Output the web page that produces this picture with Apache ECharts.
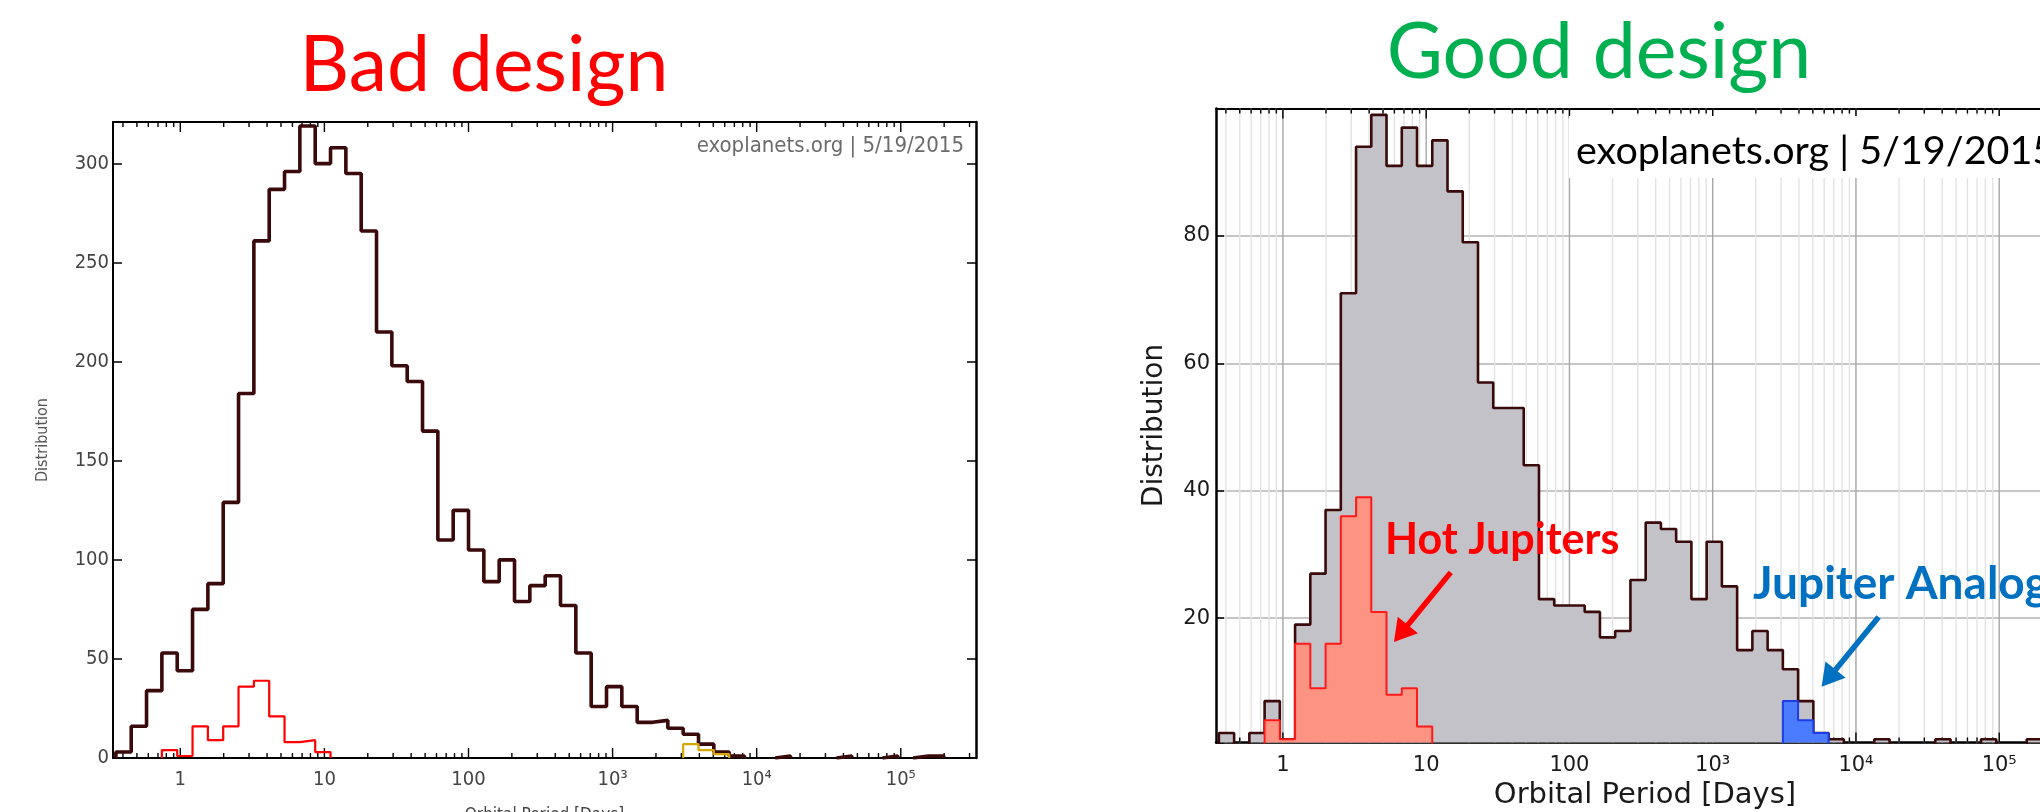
<!DOCTYPE html>
<html>
<head>
<meta charset="utf-8">
<script src="https://cdn.jsdelivr.net/npm/echarts@6/dist/echarts.min.js"></script>
<style>
  html, body { margin: 0; padding: 0; background: #ffffff; }
  #chart { width: 2040px; height: 812px; }
</style>
</head>
<body>
<div id="chart"></div>
<script>
// ---------------- DATA ----------------
// Histogram bins are equal-width in log10(orbital period in days).
const binLogWidth = 0.1064;      // width of one bin in log10(days)
const firstBinEdgeLog = -0.447;  // log10 of the left edge of bin 0

// "Bad design" panel – all planets, counts per bin (bin 0 .. 53)
const badAllCounts = [3,16,34,53,44,75,88,129,184,261, 287,296,319,300,308,295,266,215,198,190,
                      165,110,125,105,89,100,79,87,92,77, 53,26,36,26,18,19,15,12,7,3,
                      1,0,0,1,0,0,0,1,0,0, 1,0,1,1];
// "Good design" panel – all planets, counts per bin (bin 0 .. 53)
const goodAllCounts = [2,0,2,7,1,19,27,37,71,94, 99,91,97,91,95,87,79,57,53,53,
                       44,23,22,22,21,17,18,26,35,34, 32,23,32,25,15,18,15,12,7,2,
                       1,0,0,1,0,0,0,1,0,0, 1,0,0,1];
// Hot Jupiters (same in both panels), first bin index 3
const hotJupiterFirstBin = 3;
const hotJupiterCounts = [4,1,16,9,16,36,39,21,8,9,3];
// Jupiter analogs (same in both panels), first bin index 37
const jupiterAnalogFirstBin = 37;
const jupiterAnalogCounts = [7,4,2];

// Axis tick labels (decades of orbital period, log10 value -> label)
const periodTickValues = [0, 1, 2, 3, 4, 5];
const periodTickLabels = ['1', '10', '100', '10³', '10⁴', '10⁵'];

// ---------------- HELPERS ----------------
const binEdge = k => firstBinEdgeLog + k * binLogWidth;

// Stepped outline of a histogram, broken where counts are zero
function stepData(counts, startBin) {
  const pts = [];
  let open = false;
  for (let i = 0; i < counts.length; i++) {
    const c = counts[i];
    if (!(c > 0)) continue;
    const k = startBin + i;
    if (!open) { pts.push([binEdge(k), 0]); open = true; }
    pts.push([binEdge(k), c]);
    if (!(counts[i + 1] > 0)) {
      pts.push([binEdge(k + 1), c]);
      pts.push([binEdge(k + 1), 0]);
      pts.push([binEdge(k + 1), null]);
      open = false;
    }
  }
  return pts;
}

const xMin = -0.467, xMax = 5.522;

// positions of log-scale ticks (1..9 x 10^d) within the axis range
function logTicks(minLog, maxLog) {
  const out = [];
  for (let d = Math.floor(minLog); d <= Math.ceil(maxLog); d++) {
    for (let m = 1; m <= 9; m++) {
      const v = d + Math.log10(m);
      if (v > minLog && v < maxLog) out.push([v, m === 1 ? 1 : 0]);
    }
  }
  return out;
}

function decadeLabel(v) {
  const r = Math.round(v);
  if (Math.abs(v - r) > 1e-6) return '';
  const i = periodTickValues.indexOf(r);
  return i >= 0 ? periodTickLabels[i] : '';
}

function tickRenderer(o) {
  return function (params, api) {
    const cs = params.coordSys;
    const x = api.coord([api.value(0), 50])[0];
    const major = api.value(1) === 1;
    const children = [];
    if (o.grid) {
      children.push({
        type: 'line',
        shape: { x1: x, y1: cs.y, x2: x, y2: cs.y + cs.height },
        style: { stroke: major ? o.majorGrid : o.minorGrid, lineWidth: 1.4 }
      });
    }
    const L = major ? o.majorLen : o.minorLen;
    const bottom = cs.y + cs.height;
    children.push({ type: 'line', shape: { x1: x, y1: bottom, x2: x, y2: bottom - L },
      style: { stroke: o.tickColor, lineWidth: o.tickWidth } });
    children.push({ type: 'line', shape: { x1: x, y1: cs.y, x2: x, y2: cs.y + L },
      style: { stroke: o.tickColor, lineWidth: o.tickWidth } });
    return { type: 'group', children: children };
  };
}

// ---------------- STYLE ----------------
const LEFT_FONT = '"DejaVu Sans Condensed", "DejaVu Sans", sans-serif';
const RIGHT_FONT = '"DejaVu Sans", sans-serif';
const TITLE_FONT = 'Lato, "Open Sans", sans-serif';
const DARK = '#3a0909';

const chart = echarts.init(document.getElementById('chart'), null, { renderer: 'canvas', width: 2040, height: 812 });

const frameLine = w => ({ show: true, onZero: false, lineStyle: { color: '#000', width: w } });

const option = {
  animation: false,
  backgroundColor: '#ffffff',
  grid: [
    { left: 113, top: 122, width: 863, height: 636, containLabel: false, outerBoundsMode: 'none' },
    { left: 1216, top: 108.5, width: 858, height: 634, containLabel: false, outerBoundsMode: 'none' }
  ],
  xAxis: [
    { gridIndex: 0, type: 'value', min: xMin, max: xMax, position: 'bottom',
      axisLine: frameLine(2), axisTick: { show: false }, splitLine: { show: false },
      axisLabel: { formatter: decadeLabel, margin: 12, fontFamily: LEFT_FONT, fontSize: 20, color: '#444',
        showMinLabel: false, showMaxLabel: false },
      name: 'Orbital Period [Days]', nameLocation: 'middle', nameGap: 49, nameMoveOverlap: false,
      nameTextStyle: { fontFamily: LEFT_FONT, fontSize: 17, color: '#444' } },
    { gridIndex: 0, type: 'value', min: xMin, max: xMax, position: 'top',
      axisLine: frameLine(2), axisTick: { show: false }, splitLine: { show: false }, axisLabel: { show: false } },
    { gridIndex: 1, type: 'value', min: xMin, max: xMax, position: 'bottom',
      axisLine: frameLine(2.5), axisTick: { show: false }, splitLine: { show: false },
      axisLabel: { formatter: decadeLabel, margin: 13, fontFamily: RIGHT_FONT, fontSize: 21, color: '#1a1a1a',
        showMinLabel: false, showMaxLabel: false },
      name: 'Orbital Period [Days]', nameLocation: 'middle', nameGap: 37,
      nameTextStyle: { fontFamily: RIGHT_FONT, fontSize: 29, color: '#1a1a1a' } },
    { gridIndex: 1, type: 'value', min: xMin, max: xMax, position: 'top',
      axisLine: frameLine(2), axisTick: { show: false }, splitLine: { show: false }, axisLabel: { show: false } }
  ],
  yAxis: [
    { gridIndex: 0, type: 'value', min: 0, max: 321, position: 'left',
      axisLine: frameLine(2),
      axisTick: { show: true, inside: true, length: 9, lineStyle: { color: '#000', width: 1.5 } },
      splitLine: { show: false },
      axisLabel: { formatter: v => (v % 50 === 0 ? String(v) : ''), margin: 4,
        fontFamily: LEFT_FONT, fontSize: 20, color: '#444' },
      name: 'Distribution', nameLocation: 'middle', nameGap: 62,
      nameTextStyle: { fontFamily: LEFT_FONT, fontSize: 16, color: '#555' } },
    { gridIndex: 0, type: 'value', min: 0, max: 321, position: 'right',
      axisLine: frameLine(2.5),
      axisTick: { show: true, inside: true, length: 9, lineStyle: { color: '#000', width: 1.5 } },
      splitLine: { show: false }, axisLabel: { show: false } },
    { gridIndex: 1, type: 'value', min: 0.5, max: 100, position: 'left',
      axisLine: frameLine(2.5),
      axisTick: { show: true, inside: true, length: 8, lineStyle: { color: '#000', width: 1.5 } },
      splitLine: { show: true, lineStyle: { color: '#b3b3b3', width: 1.5 } },
      axisLabel: { formatter: v => (v >= 20 && v <= 80 && v % 20 === 0 ? String(v) : ''), margin: 6,
        fontFamily: RIGHT_FONT, fontSize: 21, color: '#1a1a1a' },
      name: 'Distribution', nameLocation: 'middle', nameGap: 47,
      nameTextStyle: { fontFamily: RIGHT_FONT, fontSize: 28, color: '#1a1a1a' } },
    { gridIndex: 1, type: 'value', min: 0.5, max: 100, position: 'right',
      axisLine: frameLine(2.5),
      axisTick: { show: true, inside: true, length: 8, lineStyle: { color: '#000', width: 1.5 } },
      splitLine: { show: false }, axisLabel: { show: false } }
  ],
  series: [
    // ---- left panel ----
    { type: 'custom', xAxisIndex: 0, yAxisIndex: 0, z: 1, silent: true,
      renderItem: tickRenderer({ grid: false, majorLen: 10, minorLen: 5, tickColor: '#000', tickWidth: 1.4 }),
      data: logTicks(xMin, xMax) },
    { name: 'All planets', type: 'line', xAxisIndex: 0, yAxisIndex: 0, step: 'end', z: 3,
      symbol: 'none', showSymbol: false, connectNulls: false, silent: true,
      lineStyle: { color: DARK, width: 3.6 }, data: stepData(badAllCounts, 0) },
    { name: 'Hot Jupiters', type: 'line', xAxisIndex: 0, yAxisIndex: 0, step: 'end', z: 4,
      symbol: 'none', showSymbol: false, connectNulls: false, silent: true,
      lineStyle: { color: '#ff0000', width: 2.2 }, data: stepData(hotJupiterCounts, hotJupiterFirstBin) },
    { name: 'Jupiter Analogs', type: 'line', xAxisIndex: 0, yAxisIndex: 0, step: 'end', z: 4,
      symbol: 'none', showSymbol: false, connectNulls: false, silent: true,
      lineStyle: { color: '#d8a600', width: 2.2 }, data: stepData(jupiterAnalogCounts, jupiterAnalogFirstBin) },
    // ---- right panel ----
    { type: 'custom', xAxisIndex: 2, yAxisIndex: 2, z: 1, silent: true,
      renderItem: tickRenderer({ grid: true, majorGrid: '#a6a6a6', minorGrid: '#e3e3e3',
        majorLen: 10, minorLen: 5, tickColor: '#000', tickWidth: 1.4 }),
      data: logTicks(xMin, xMax) },
    { name: 'All planets', type: 'line', xAxisIndex: 2, yAxisIndex: 2, step: 'end', z: 3,
      symbol: 'none', showSymbol: false, connectNulls: false, silent: true,
      lineStyle: { color: DARK, width: 2.6 },
      areaStyle: { color: '#c3c2c8', opacity: 1, origin: 'start' },
      data: stepData(goodAllCounts, 0) },
    { name: 'Hot Jupiters', type: 'line', xAxisIndex: 2, yAxisIndex: 2, step: 'end', z: 4,
      symbol: 'none', showSymbol: false, connectNulls: false, silent: true,
      lineStyle: { color: '#ff1a1a', width: 2 },
      areaStyle: { color: '#fc9383', opacity: 1, origin: 'start' },
      data: stepData(hotJupiterCounts, hotJupiterFirstBin),
      markLine: { silent: true, animation: false, symbol: ['none', 'triangle'], symbolSize: [26, 22],
        lineStyle: { color: '#ff0000', width: 5.5, type: 'solid' }, label: { show: false },
        emphasis: { disabled: true },
        data: [[{ coord: [1.1717, 27.2] }, { coord: [0.8235, 17.6] }]] } },
    { name: 'Jupiter Analogs', type: 'line', xAxisIndex: 2, yAxisIndex: 2, step: 'end', z: 4,
      symbol: 'none', showSymbol: false, connectNulls: false, silent: true,
      lineStyle: { color: '#1c3ce8', width: 2 },
      areaStyle: { color: '#4b7cff', opacity: 1, origin: 'start' },
      data: stepData(jupiterAnalogCounts, jupiterAnalogFirstBin),
      markLine: { silent: true, animation: false, symbol: ['none', 'triangle'], symbolSize: [26, 22],
        lineStyle: { color: '#0070c0', width: 5.5, type: 'solid' }, label: { show: false },
        emphasis: { disabled: true },
        data: [[{ coord: [4.1584, 20.2] }, { coord: [3.8088, 10.6] }]] } }
  ],
  graphic: [
    { type: 'text', x: 484, y: 66, z: 20, silent: true,
      style: { text: 'Bad design', fontFamily: TITLE_FONT, fontSize: 77, fill: '#ff0000',
        align: 'center', verticalAlign: 'middle', textAlign: 'center', textVerticalAlign: 'middle' } },
    { type: 'text', x: 1599, y: 53, z: 20, silent: true,
      style: { text: 'Good design', fontFamily: TITLE_FONT, fontSize: 77, fill: '#00b050',
        align: 'center', verticalAlign: 'middle', textAlign: 'center', textVerticalAlign: 'middle' } },
    { type: 'text', x: 964, y: 146, z: 20, silent: true,
      style: { text: 'exoplanets.org | 5/19/2015', fontFamily: LEFT_FONT, fontSize: 22, fill: '#6b6b6b',
        align: 'right', verticalAlign: 'middle', textAlign: 'right', textVerticalAlign: 'middle' } },
    { type: 'rect', z: 15, silent: true, shape: { x: 1569, y: 116, width: 480, height: 62 },
      style: { fill: '#ffffff' } },
    { type: 'text', x: 1576, y: 151.5, z: 20, silent: true,
      style: { text: 'exoplanets.org | 5/19/2015', fontFamily: TITLE_FONT, fontSize: 39.5, fill: '#000000',
        align: 'left', verticalAlign: 'middle', textAlign: 'left', textVerticalAlign: 'middle' } },
    { type: 'text', x: 1385, y: 540, z: 20, silent: true,
      style: { text: 'Hot Jupiters', fontFamily: TITLE_FONT, fontWeight: 'bold', fontSize: 43, fill: '#ff0000',
        align: 'left', verticalAlign: 'middle', textAlign: 'left', textVerticalAlign: 'middle' } },
    { type: 'text', x: 1753, y: 584, z: 20, silent: true,
      style: { text: 'Jupiter Analogs', fontFamily: TITLE_FONT, fontWeight: 'bold', fontSize: 46, fill: '#0070c0',
        align: 'left', verticalAlign: 'middle', textAlign: 'left', textVerticalAlign: 'middle' } }
  ]
};

chart.setOption(option);
</script>
</body>
</html>
